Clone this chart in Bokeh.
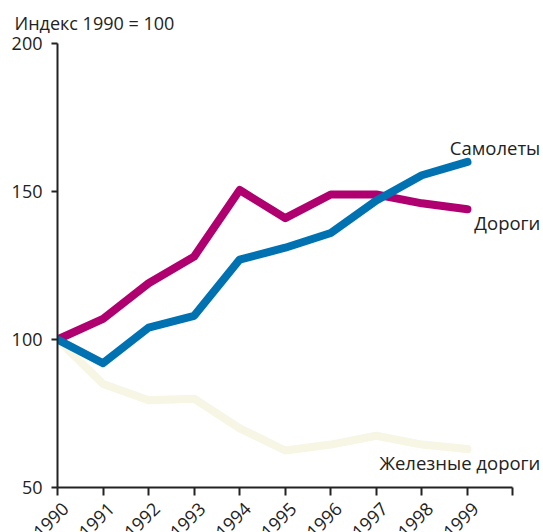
import math
from bokeh.plotting import figure
from bokeh.layouts import column
from bokeh.models import Range1d, FixedTicker, LinearAxis
from bokeh.core.properties import value
from bokeh.embed import file_html
from bokeh.resources import INLINE

years = [1990, 1991, 1992, 1993, 1994, 1995, 1996, 1997, 1998, 1999]
planes = [100, 92, 104, 108, 127, 131, 136, 147, 155.5, 160]
roads = [100, 107, 119, 128, 150.5, 141, 149, 149, 146, 144]
rail = [100, 85, 79.5, 80, 70, 62.5, 64.5, 67.5, 64.5, 63]

x_ticks = [1990, 1991, 1992, 1993, 1994, 1995, 1996, 1997, 1998, 1999, 2000]
x_tick_labels = ["1990", "1991", "1992", "1993", "1994", "1995", "1996", "1997", "1998", "1999"]
y_ticks = [50, 100, 150, 200]
unit_label = "Индекс 1990 = 100"
series_names = ["Самолеты", "Дороги", "Железные дороги"]

FONT = "Open Sans"
INK = "#222222"
FS = "18px"
W = 543
LEFT = 57
TOP_H = 33
MAIN_TOP = 10
FRAME_H = 444
BOTTOM_AXIS = 14
LABEL_H = 532 - TOP_H - MAIN_TOP - FRAME_H - BOTTOM_AXIS

x_end = 2000.67
px_per_year = (W - LEFT) / (x_end - 1990)
xr = Range1d(1990, x_end)


def bare(fig):
    fig.outline_line_color = None
    fig.grid.visible = False
    fig.background_fill_color = "white"
    fig.border_fill_color = "white"
    return fig


# title strip
pt = bare(figure(width=W, height=TOP_H, output_backend="svg", toolbar_location=None,
                 x_range=Range1d(0, W), y_range=Range1d(0, TOP_H),
                 x_axis_type=None, y_axis_type=None, frame_align=False,
                 min_border_left=0, min_border_right=0, min_border_top=0, min_border_bottom=0))
pt.text(x=[14], y=[11], text=[unit_label], text_align="left", text_baseline="alphabetic",
        text_font=value(FONT), text_font_size=FS, text_color=INK)

# main chart
p = bare(figure(width=W, height=MAIN_TOP + FRAME_H + BOTTOM_AXIS, output_backend="svg",
                toolbar_location=None, x_range=xr, y_range=Range1d(50, 200),
                x_axis_type=None, y_axis_type=None,
                min_border_left=LEFT, min_border_right=0, min_border_top=MAIN_TOP,
                min_border_bottom=BOTTOM_AXIS))

xa = LinearAxis(ticker=FixedTicker(ticks=x_ticks), bounds=(1990, 2000))
xa.major_label_overrides = {t: "" for t in x_ticks}
xa.major_label_text_font_size = "1px"
xa.major_label_standoff = 0
ya = LinearAxis(ticker=FixedTicker(ticks=y_ticks), bounds=(50, 200))
ya.major_label_text_font = FONT
ya.major_label_text_font_size = FS
ya.major_label_text_color = INK
for ax in (xa, ya):
    ax.axis_line_color = INK
    ax.axis_line_width = 2
    ax.major_tick_line_color = INK
    ax.major_tick_line_width = 2
    ax.major_tick_in = 0
    ax.minor_tick_line_color = None
xa.major_tick_out = 8
ya.major_tick_out = 6
ya.major_label_standoff = 9
p.add_layout(xa, "below")
p.add_layout(ya, "left")

p.line(years, rail, line_color="#F7F5E3", line_width=8, line_cap="round", line_join="round")
p.line(years, roads, line_color="#B0006F", line_width=8, line_cap="round", line_join="round")
p.line(years, planes, line_color="#0072B2", line_width=8, line_cap="round", line_join="round")

label_x = [2000.6, 2000.6, 2000.6]
label_y = [165, 139.6, 58.5]
p.text(x=label_x, y=label_y, text=series_names, text_align="right", text_baseline="middle",
       text_font=value(FONT), text_font_size="18.5px", text_color=INK)

# rotated year labels strip
pb = bare(figure(width=W, height=LABEL_H, output_backend="svg", toolbar_location=None,
                 x_range=Range1d(1990 - LEFT / px_per_year, x_end), y_range=Range1d(0, LABEL_H),
                 x_axis_type=None, y_axis_type=None, frame_align=False,
                 min_border_left=0, min_border_right=0, min_border_top=0, min_border_bottom=0))
pb.text(x=years[:len(x_tick_labels)], y=[LABEL_H - 4] * len(x_tick_labels), text=x_tick_labels,
        angle=math.pi / 4, x_offset=8, text_align="right", text_baseline="middle",
        text_font=value(FONT), text_font_size=FS, text_color=INK)

layout = column(pt, p, pb, spacing=0)
open("out.html", "w").write(file_html(layout, INLINE))
